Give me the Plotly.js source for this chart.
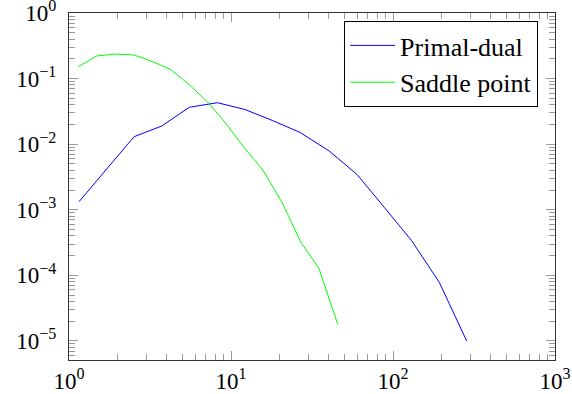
<!DOCTYPE html>
<html>
<head>
<meta charset="utf-8">
<script src="https://cdn.plot.ly/plotly-3.0.1.min.js"></script>
<style>html,body{margin:0;padding:0;background:#fff;}#chart{width:572px;height:394px;}</style>
</head>
<body>
<div id="chart"></div>
<script>
var primalDualX = [1.153, 2.52, 3.73, 5.53, 8.24, 12.2, 18.0, 26.7, 40.3, 60.0, 88.6, 130.4, 193, 285];
var primalDualY = [1.33e-3, 1.30e-2, 1.89e-2, 3.65e-2, 4.29e-2, 3.38e-2, 2.30e-2, 1.51e-2, 7.9e-3, 3.45e-3, 1.08e-3, 3.38e-4, 7.85e-5, 1.0e-5];
var saddleX = [1.141, 1.482, 1.942, 2.52, 3.27, 4.23, 5.51, 7.16, 9.31, 12.1, 15.8, 20.7, 27.0, 34.9, 45.6];
var saddleY = [0.152, 0.221, 0.237, 0.229, 0.182, 0.138, 8.13e-2, 4.40e-2, 2.07e-2, 8.74e-3, 3.97e-3, 1.28e-3, 3.20e-4, 1.28e-4, 1.80e-5];
var seriesNames = ["Primal-dual", "Saddle point"];
var xTickVals = [1, 10, 100, 1000];
var xTickText = ["10<sup>0</sup>", "10<sup>1</sup>", "10<sup>2</sup>", "10<sup>3</sup>"];
var yTickVals = [1e-5, 1e-4, 1e-3, 1e-2, 1e-1, 1];
var yTickText = ["10<sup>−5</sup>", "10<sup>−4</sup>", "10<sup>−3</sup>", "10<sup>−2</sup>", "10<sup>−1</sup>", "10<sup>0</sup>"];

function minorVals(lo, hi) {
  var out = [];
  for (var e = lo; e < hi; e++) {
    for (var m = 2; m <= 9; m++) out.push(m * Math.pow(10, e));
  }
  return out;
}

var serif = "Liberation Serif";
var tickFont = {family: serif, size: 23, color: "#000"};

var traces = [
  {x: primalDualX, y: primalDualY, name: seriesNames[0], type: "scatter", mode: "lines",
   line: {color: "#0000ff", width: 1}},
  {x: saddleX, y: saddleY, name: seriesNames[1], type: "scatter", mode: "lines",
   line: {color: "#00ff00", width: 1}}
];

var axisCommon = {
  type: "log", showgrid: false, zeroline: false,
  showline: true, linecolor: "#333", linewidth: 1, mirror: "allticks",
  ticks: "inside", ticklen: 9, tickcolor: "#999", tickwidth: 1,
  tickmode: "array", tickfont: tickFont, ticklabeloverflow: "allow"
};

var layout = {
  width: 572, height: 394,
  font: {family: serif},
  margin: {l: 69, r: 17, t: 13, b: 34, pad: 0},
  paper_bgcolor: "#fff", plot_bgcolor: "#fff",
  showlegend: true,
  legend: {x: 0.566, y: 0.977, xanchor: "left", yanchor: "top",
           bordercolor: "#000", borderwidth: 1, bgcolor: "#fff",
           font: {family: serif, size: 26, color: "#000"},
           itemwidth: 45, tracegroupgap: 0},
  xaxis: Object.assign({}, axisCommon, {
    range: [0, 3], tickvals: xTickVals, ticktext: xTickText, ticklabelstandoff: 0,
    minor: {tickmode: "array", tickvals: minorVals(0, 3), ticks: "inside", ticklen: 6, tickcolor: "#999", tickwidth: 1, showgrid: false}
  }),
  yaxis: Object.assign({}, axisCommon, {
    range: [-5.29, 0], tickvals: yTickVals, ticktext: yTickText, ticklabelstandoff: 7,
    minor: {tickmode: "array", tickvals: minorVals(-6, 0), ticks: "inside", ticklen: 6, tickcolor: "#999", tickwidth: 1, showgrid: false}
  })
};

Plotly.newPlot("chart", traces, layout, {displayModeBar: false, staticPlot: true});
</script>
</body>
</html>
